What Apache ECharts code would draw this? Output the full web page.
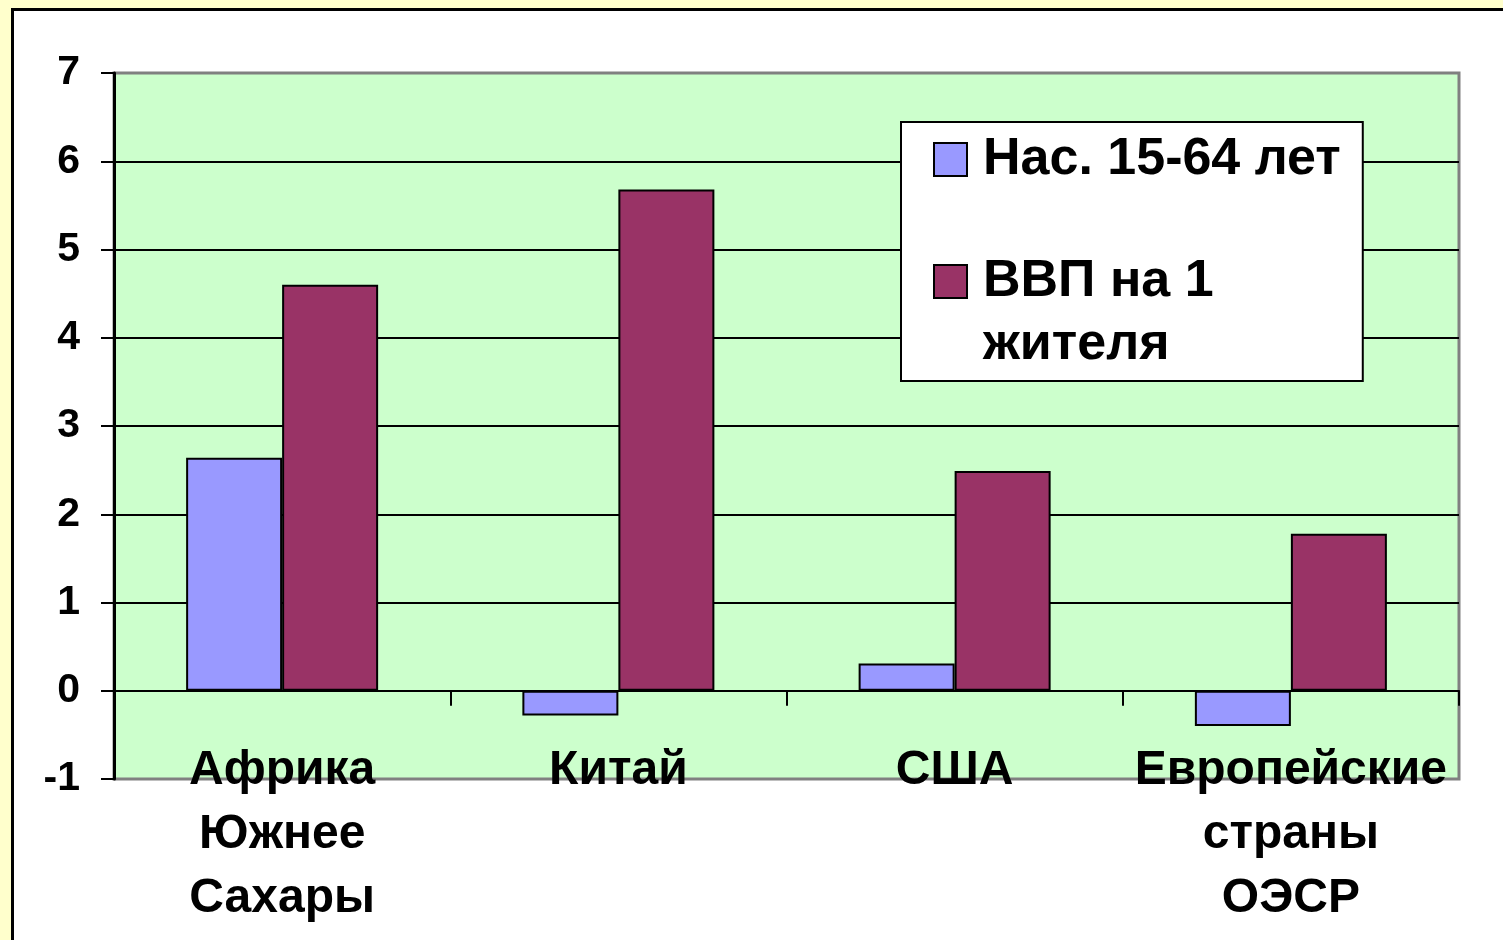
<!DOCTYPE html>
<html lang="ru">

<head>
    <meta charset="UTF-8">
    <title>Chart</title>
    <script src="https://cdn.jsdelivr.net/npm/echarts@6/dist/echarts.min.js"></script>
    <style>
        body {
            margin: 0;
            background: #FFFFCC;
            width: 1503px;
            height: 940px;
            overflow: hidden;
            position: relative;
        }

        .panel {
            position: absolute;
            left: 11px;
            top: 8px;
            width: 1600px;
            height: 1000px;
            background: #fff;
            border-top: 3px solid #000;
            border-left: 3px solid #000;
        }

        #main {
            position: absolute;
            left: 0;
            top: 0;
            width: 1503px;
            height: 940px;
        }
    </style>
</head>

<body>
    <div class="panel"></div>
    <div id="main"></div>

    <script>
        var categories = ['Африка\nЮжнее\nСахары', 'Китай', 'США', 'Европейские\nстраны\nОЭСР'];
        var seriesNames = ['Нас. 15-64 лет', 'ВВП на 1\nжителя'];
        var population = [2.64, -0.28, 0.31, -0.40];
        var gdpPerCapita = [4.60, 5.68, 2.49, 1.78];

        var font = 'Liberation Sans, Arial, sans-serif';

        var chartDom = document.getElementById('main');
        var myChart = echarts.init(chartDom);
        var option;

        option = {
            backgroundColor: 'transparent',
            animation: false,
            grid: {
                left: 114,
                right: 44,
                top: 73,
                bottom: 161,
                outerBoundsMode: 'none',
                containLabel: false,
                show: true,
                backgroundColor: '#CCFFCC',
                borderColor: '#808080',
                borderWidth: 3
            },
            legend: {
                orient: 'vertical',
                left: 901,
                top: 122,
                backgroundColor: '#fff',
                borderColor: '#000',
                borderWidth: 2,
                borderRadius: 0,
                padding: [6, 22, 5, 32],
                itemWidth: 33,
                itemHeight: 33,
                itemGap: -4,
                icon: 'rect',
                // multi-line entry: blank first line keeps the icon next to "ВВП на 1"
                formatter: function (name) {
                    return name.indexOf('\n') >= 0 ? '\n' + name : name;
                },
                textStyle: {
                    fontFamily: font,
                    fontWeight: 'bold',
                    fontSize: 52,
                    lineHeight: 63,
                    padding: [0, 0, 0, 11],
                    color: '#000'
                },
                data: seriesNames
            },
            xAxis: {
                type: 'category',
                data: categories,
                axisLine: { onZero: true, lineStyle: { color: '#000', width: 2 } },
                axisTick: { show: true, length: 15, lineStyle: { color: '#000', width: 2 } },
                axisLabel: {
                    interval: 0,
                    margin: -40,
                    color: '#000',
                    fontFamily: font,
                    fontWeight: 'bold',
                    fontSize: 48,
                    lineHeight: 64
                },
                splitLine: { show: false }
            },
            yAxis: {
                type: 'value',
                min: -1,
                max: 7,
                interval: 1,
                axisLine: { show: true, lineStyle: { color: '#000', width: 3 } },
                axisTick: { show: true, length: 13, lineStyle: { color: '#000', width: 2 } },
                axisLabel: {
                    margin: 34,
                    color: '#000',
                    fontFamily: font,
                    fontWeight: 'bold',
                    fontSize: 41
                },
                splitLine: {
                    show: true,
                    showMinLine: false,
                    showMaxLine: false,
                    lineStyle: { color: '#000', width: 2 }
                }
            },
            series: [
                {
                    name: seriesNames[0],
                    type: 'bar',
                    data: population,
                    barWidth: 96,
                    barGap: '0%',
                    itemStyle: { color: '#9999FF', borderColor: '#000', borderWidth: 2 }
                },
                {
                    name: seriesNames[1],
                    type: 'bar',
                    data: gdpPerCapita,
                    barWidth: 96,
                    barGap: '0%',
                    itemStyle: { color: '#993366', borderColor: '#000', borderWidth: 2 }
                }
            ]
        };

        option && myChart.setOption(option);
    </script>

</body>

</html>
